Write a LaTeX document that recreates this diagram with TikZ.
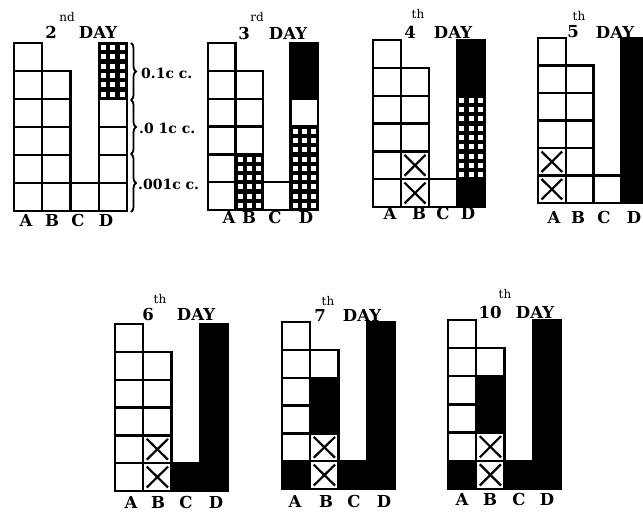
\documentclass[tikz,border=0pt]{standalone}
\usepackage{fontspec}
\setmainfont{DejaVu Serif}
\usetikzlibrary{decorations.pathreplacing}
\tikzset{
  cellline/.style={line width=2.4pt, draw=black},
  crossline/.style={line width=2.2pt, draw=black},
  ttl/.style={font=\fontsize{16.5}{16.5}\selectfont\bfseries, inner sep=0pt},
  supx/.style={font=\fontsize{12}{12}\selectfont, inner sep=0pt},
  lab/.style={font=\fontsize{16.5}{16.5}\selectfont\bfseries, inner sep=0pt},
  cclab/.style={font=\fontsize{14}{14}\selectfont\bfseries, anchor=west, inner sep=0pt},
  brc/.style={decorate, decoration={brace, amplitude=5pt}, line width=1.8pt}
}
\newcommand\cellW[4]{\draw[cellline,fill=white] ({#1},{#2}) rectangle ++(#3,#4);}
\newcommand\cellB[4]{\draw[cellline,fill=black] ({#1},{#2}) rectangle ++(#3,#4);}
\newcommand\cellX[4]{\draw[cellline,fill=white] ({#1},{#2}) rectangle ++(#3,#4);
  \draw[crossline] ({#1+3.5},{#2+3.5}) -- ({#1+#3-3.5},{#2+#4-3.5});
  \draw[crossline] ({#1+#3-3.5},{#2+3.5}) -- ({#1+3.5},{#2+#4-3.5});}
\newcommand\cellH[4]{\fill[black] ({#1},{#2}) rectangle ++(#3,#4);
  \foreach \hr in {0,1,2}{\foreach \hc in {0,1,2}{
    \fill[white] ({#1+(\hc+0.5)*#3/3-2.5},{#2+(\hr+0.5)*#4/3-2.5}) rectangle ++(5,5);}}
  \draw[cellline] ({#1},{#2}) rectangle ++(#3,#4);}
\newcommand\gcolumn[5]{%
  \foreach \ct [count=\ii from 0] in {#5}{%
    \csname cell\ct\endcsname{#1}{#2-(\ii+1)*#4}{#3}{#4}}}
\newcommand\gpanel[8]{%
  \gcolumn{#1}{#2}{#3}{#4}{#5}%
  \gcolumn{#1+#3}{#2}{#3}{#4}{#6}%
  \gcolumn{#1+2*#3}{#2}{#3}{#4}{#7}%
  \gcolumn{#1+3*#3}{#2}{#3}{#4}{#8}}
\newcommand\glabels[6]{%
  \node[lab] (#1A) at (#3,#2) {A};
  \node[lab] (#1B) at (#4,#2) {B};
  \node[lab] (#1C) at (#5,#2) {C};
  \node[lab] (#1D) at (#6,#2) {D};}
\newcommand\gtitle[8]{%
  \node[ttl] (#1n) at (#3,#4) {#2};
  \node[supx] (#1s) at (#6,#7) {#5};
  \node[ttl] (#1d) at (#8,#4) {DAY};}
\begin{document}
\begin{tikzpicture}[x=1pt,y=-1pt]
\useasboundingbox (0,0) rectangle (643,513);
\clip (0,0) rectangle (643,513);
\fill[white] (0,0) rectangle (643,513);
% panel 1: 2nd day
\gpanel{14}{211}{28.25}{28}{W,W,W,W,W,W}{W,W,W,W,W}{W}{W,W,W,W,H,H}
% panel 2: 3rd day
\gpanel{208}{210}{27.5}{27.8}{W,W,W,W,W,W}{H,H,W,W,W}{W}{H,H,H,W,B,B}
% panel 3: 4th day
\gpanel{373}{207}{28}{27.8}{W,W,W,W,W,W}{X,X,W,W,W}{W}{B,H,H,H,B,B}
% panel 4: 5th day
\gpanel{538}{203}{27.7}{27.5}{X,X,W,W,W,W}{W,W,W,W,W}{W}{B,B,B,B,B,B}
% panel 5: 6th day
\gpanel{115}{491}{28.25}{27.8}{W,W,W,W,W,W}{X,X,W,W,W}{B}{B,B,B,B,B,B}
% panel 6: 7th day
\gpanel{282}{489}{28.25}{27.8}{B,W,W,W,W,W}{X,X,B,B,W}{B}{B,B,B,B,B,B}
% panel 7: 10th day
\gpanel{448}{489}{28.25}{28.2}{B,W,W,W,W,W}{X,X,B,B,W}{B}{B,B,B,B,B,B}
% titles
\gtitle{t1}{2}{51}{32}{nd}{67}{17}{98}
\gtitle{t2}{3}{244}{33}{rd}{257}{17}{288}
\gtitle{t3}{4}{410}{32}{th}{418}{14}{453}
\gtitle{t4}{5}{573}{32}{th}{579}{16}{615}
\gtitle{t5}{6}{148}{314}{th}{160}{299}{196}
\gtitle{t6}{7}{320}{315}{th}{328}{301}{362}
\gtitle{t7}{10}{490}{312}{th}{505}{294}{535}
% column labels
\glabels{l1}{220}{26}{52}{78}{106}
\glabels{l2}{217}{229}{249}{275}{306}
\glabels{l3}{213}{390}{419}{443}{468}
\glabels{l4}{217}{554}{578}{604}{634}
\glabels{l5}{502}{131}{158}{186}{216}
\glabels{l6}{501}{295}{326}{354}{384}
\glabels{l7}{499}{462}{490}{519}{547}
% braces and volumes
\coordinate (b1t) at (131,43);
\coordinate (b1b) at (131,100);
\coordinate (b2t) at (131,100);
\coordinate (b2b) at (131,154);
\coordinate (b3t) at (131,154);
\coordinate (b3b) at (131,212);
\draw[brc] (b1t) -- (b1b);
\draw[brc] (b2t) -- (b2b);
\draw[brc] (b3t) -- (b3b);
\node[cclab] (v1) at (141,73) {0.1c c.};
\node[cclab] (v2) at (139,128) {.0 1c c.};
\node[cclab] (v3) at (138,184) {.001c c.};
\end{tikzpicture}
\end{document}
